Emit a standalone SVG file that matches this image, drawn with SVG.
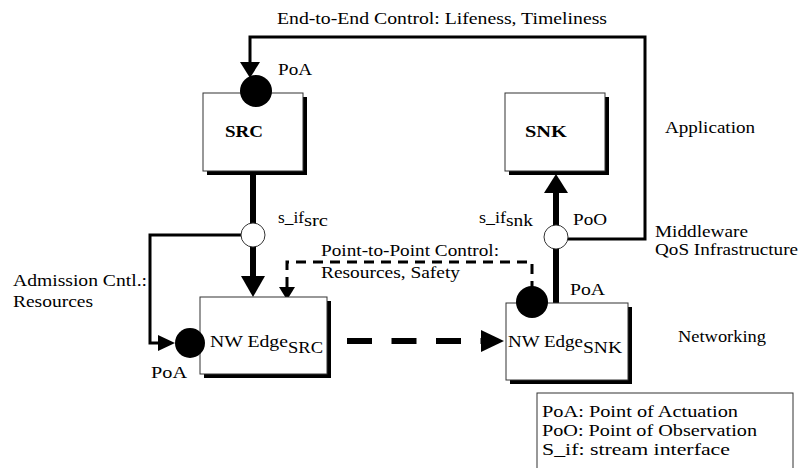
<svg xmlns="http://www.w3.org/2000/svg" width="803" height="468" viewBox="0 0 803 468">
  <style>
    text { font-family: Liberation Serif, Times New Roman, Times, DejaVu Serif, serif; font-size: 16px; }
    .bold { font-weight: bold; }
    .sub { font-size: 17px; }
    .box { fill: #fff; stroke: #333; stroke-width: 1; }
    .shadow { fill: #000; }
    .poa { fill: #000; }
    .sif { fill: #fff; stroke: #333; stroke-width: 1; }
    .ctl { fill: none; stroke: #000; stroke-width: 3; }
    .flow { fill: none; stroke: #000; stroke-width: 6; }
    .dash { fill: none; stroke: #000; stroke-width: 3; stroke-dasharray: 10 7; }
    .bigdash { fill: none; stroke: #000; stroke-width: 6; stroke-dasharray: 25 19.5; }
    .head { fill: #000; }
  </style>

  <!-- connectors -->
  <g id="connectors">
    <!-- end-to-end control loop: PoO of sink back to PoA of source -->
    <polyline class="ctl" points="568,239 645,239 645,37 250,37 250,63"/>
    <polygon class="head" points="240,62 260,62 250,78"/>

    <!-- stream from SRC through s_if to NW Edge -->
    <line class="flow" x1="253" y1="175" x2="253" y2="223"/>
    <line class="flow" x1="253" y1="247" x2="253" y2="277"/>
    <polygon class="head" points="241,276 265,276 253,297"/>

    <!-- admission control -->
    <polyline class="ctl" points="241,235 150,235 150,343 159,343"/>
    <polygon class="head" points="158,335 158,351 175,343"/>

    <!-- stream from NW Edge up through s_if to SNK -->
    <line class="flow" x1="556" y1="249" x2="556" y2="303"/>
    <line class="flow" x1="556" y1="225" x2="556" y2="192"/>
    <polygon class="head" points="544,193 568,193 556,174"/>

    <!-- point-to-point control -->
    <polyline class="dash" points="287,287 287,262 532,262 532,287"/>
    <polygon class="head" points="279,287 295,287 287,300"/>

    <!-- network transfer between edges -->
    <line class="bigdash" x1="347" y1="341" x2="481" y2="341"/>
    <polygon class="head" points="481,330 481,352 504,341"/>
  </g>

  <!-- source application -->
  <g id="src">
    <rect class="shadow" x="207" y="97" width="100" height="78"/>
    <rect class="box" x="203" y="93" width="100" height="78"/>
    <text class="bold" x="225" y="137" textLength="38" lengthAdjust="spacingAndGlyphs">SRC</text>
  </g>
  <g id="src-poa">
    <circle class="poa" cx="256" cy="91" r="16"/>
    <text x="278" y="75" textLength="34" lengthAdjust="spacingAndGlyphs">PoA</text>
  </g>

  <!-- sink application -->
  <g id="snk">
    <rect class="shadow" x="509" y="97" width="100" height="78"/>
    <rect class="box" x="505" y="93" width="100" height="78"/>
    <text class="bold" x="525" y="137" textLength="42" lengthAdjust="spacingAndGlyphs">SNK</text>
  </g>

  <!-- stream interfaces -->
  <g id="sif-src">
    <circle class="sif" cx="253" cy="235" r="12"/>
    <text x="278" y="223" textLength="26" lengthAdjust="spacingAndGlyphs">s_if</text>
    <text class="sub" x="304" y="226" textLength="24" lengthAdjust="spacingAndGlyphs">src</text>
  </g>
  <g id="sif-snk">
    <circle class="sif" cx="556" cy="237" r="12"/>
    <text x="479" y="223" textLength="27" lengthAdjust="spacingAndGlyphs">s_if</text>
    <text class="sub" x="506" y="226" textLength="27" lengthAdjust="spacingAndGlyphs">snk</text>
    <text x="573" y="225" textLength="34" lengthAdjust="spacingAndGlyphs">PoO</text>
  </g>

  <!-- network edge, source side -->
  <g id="nw-edge-src">
    <rect class="shadow" x="204" y="301" width="127" height="77"/>
    <rect class="box" x="200" y="297" width="127" height="77"/>
    <text x="210" y="347" textLength="78" lengthAdjust="spacingAndGlyphs">NW Edge</text>
    <text class="sub" x="288" y="353" textLength="35" lengthAdjust="spacingAndGlyphs">SRC</text>
  </g>
  <g id="nw-src-poa">
    <circle class="poa" cx="190" cy="343" r="15"/>
    <text x="151" y="378" textLength="36" lengthAdjust="spacingAndGlyphs">PoA</text>
  </g>

  <!-- network edge, sink side -->
  <g id="nw-edge-snk">
    <rect class="shadow" x="510" y="307" width="122" height="77"/>
    <rect class="box" x="506" y="303" width="122" height="77"/>
    <text x="508" y="347" textLength="75" lengthAdjust="spacingAndGlyphs">NW Edge</text>
    <text class="sub" x="583" y="353" textLength="39" lengthAdjust="spacingAndGlyphs">SNK</text>
  </g>
  <g id="nw-snk-poa">
    <circle class="poa" cx="532" cy="302" r="16"/>
    <text x="570" y="295" textLength="35" lengthAdjust="spacingAndGlyphs">PoA</text>
  </g>

  <!-- connector labels -->
  <g id="labels">
    <text x="277" y="24" textLength="330" lengthAdjust="spacingAndGlyphs">End-to-End Control: Lifeness, Timeliness</text>
    <text x="13" y="286" textLength="134" lengthAdjust="spacingAndGlyphs">Admission Cntl.:</text>
    <text x="13" y="307" textLength="80" lengthAdjust="spacingAndGlyphs">Resources</text>
    <text x="321" y="256" textLength="178" lengthAdjust="spacingAndGlyphs">Point-to-Point Control:</text>
    <text x="321" y="278" textLength="139" lengthAdjust="spacingAndGlyphs">Resources, Safety</text>
  </g>

  <!-- layer names -->
  <g id="layers">
    <text x="665" y="133" textLength="90" lengthAdjust="spacingAndGlyphs">Application</text>
    <text x="655" y="237" textLength="93" lengthAdjust="spacingAndGlyphs">Middleware</text>
    <text x="655" y="255" textLength="143" lengthAdjust="spacingAndGlyphs">QoS Infrastructure</text>
    <text x="678" y="342" textLength="88" lengthAdjust="spacingAndGlyphs">Networking</text>
  </g>

  <!-- legend -->
  <g id="legend">
    <rect x="537" y="393" width="256" height="82" fill="#fff" stroke="#333" stroke-width="1"/>
    <text x="542" y="417" textLength="196" lengthAdjust="spacingAndGlyphs">PoA: Point of Actuation</text>
    <text x="542" y="436" textLength="215" lengthAdjust="spacingAndGlyphs">PoO: Point of Observation</text>
    <text x="542" y="455" textLength="188" lengthAdjust="spacingAndGlyphs">S_if: stream interface</text>
  </g>
</svg>
